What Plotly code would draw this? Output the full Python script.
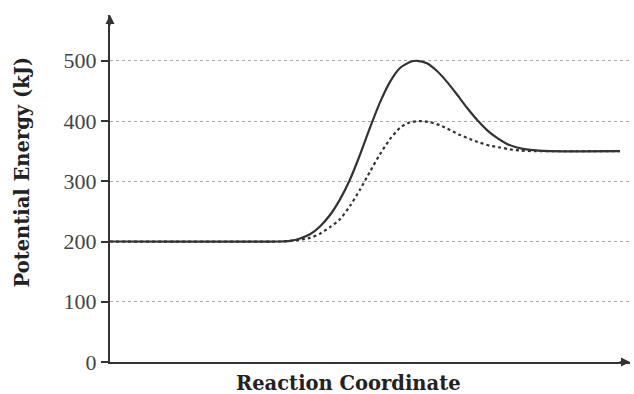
import plotly.graph_objects as go

# Reaction coordinate (arbitrary units) and potential energy (kJ)
x_uncat = [0, 170, 180, 190, 200, 210, 220, 230, 240, 250, 260, 270, 280, 290, 300, 307,
           317, 327, 337, 347, 357, 367, 377, 387, 397, 407, 420, 440, 510]
e_uncat = [200, 200, 201, 205, 212, 225, 244, 270, 303, 344, 389, 431, 465, 488, 498, 500,
           496, 483, 465, 444, 422, 402, 385, 372, 362, 356, 352, 350, 350]

x_cat = [0, 170, 180, 190, 200, 210, 220, 230, 240, 250, 260, 270, 280, 290, 300, 310,
         320, 330, 340, 350, 360, 370, 380, 390, 400, 410, 425, 510]
e_cat = [200, 200, 201, 203, 206, 213, 224, 237, 259, 286, 316, 345, 370, 389, 398, 400,
         398, 393, 385, 377, 370, 364, 359, 356, 353, 351, 350, 350]

y_ticks = [0, 100, 200, 300, 400, 500]

fig = go.Figure()
fig.add_trace(go.Scatter(x=x_cat, y=e_cat, mode="lines",
                         line=dict(color="#333", width=2.2, dash="dot", shape="spline", smoothing=0.6),
                         showlegend=False, hoverinfo="skip"))
fig.add_trace(go.Scatter(x=x_uncat, y=e_uncat, mode="lines",
                         line=dict(color="#333", width=2.2, shape="spline", smoothing=0.6),
                         showlegend=False, hoverinfo="skip"))

serif = "Liberation Serif, Times New Roman, serif"
title_font = "DejaVu Serif, serif"

fig.update_layout(
    width=634, height=394,
    margin=dict(l=110, r=4, t=15, b=32),
    plot_bgcolor="white", paper_bgcolor="white",
    xaxis=dict(range=[0, 520], showgrid=False, zeroline=False, showticklabels=False,
               showline=True, linecolor="#333", linewidth=2, ticks=""),
    yaxis=dict(range=[0, 576], tickvals=y_ticks, ticks="outside", ticklen=7, tickwidth=1.5,
               tickcolor="#333", showline=True, linecolor="#333", linewidth=2,
               showgrid=True, gridcolor="#aaa", griddash="dot", gridwidth=1, zeroline=False,
               tickfont=dict(family=serif, size=22, color="#444")),
    font=dict(family=serif),
)

# axis titles
fig.add_annotation(text="<b>Potential Energy (kJ)</b>", xref="paper", yref="paper",
                   x=0, y=0.5, xanchor="center", yanchor="middle", xshift=-88, yshift=16,
                   textangle=-90, showarrow=False,
                   font=dict(family=title_font, size=19.5, color="#222"))
fig.add_annotation(text="<b>Reaction Coordinate</b>", xref="paper", yref="paper",
                   x=0.458, y=0, xanchor="center", yanchor="middle", yshift=-21, showarrow=False,
                   font=dict(family=title_font, size=19.5, color="#222"))

# axis arrows
fig.add_annotation(x=0, y=1, xref="paper", yref="paper", ax=0, ay=12, axref="pixel", ayref="pixel",
                   showarrow=True, arrowhead=2, arrowsize=1.2, arrowwidth=1.5, arrowcolor="#333", text="")
fig.add_annotation(x=1, y=0, xref="paper", yref="paper", ax=-12, ay=0,
                   showarrow=True, arrowhead=2, arrowsize=1.2, arrowwidth=1.5, arrowcolor="#333", text="")

fig.write_html("out.html")
